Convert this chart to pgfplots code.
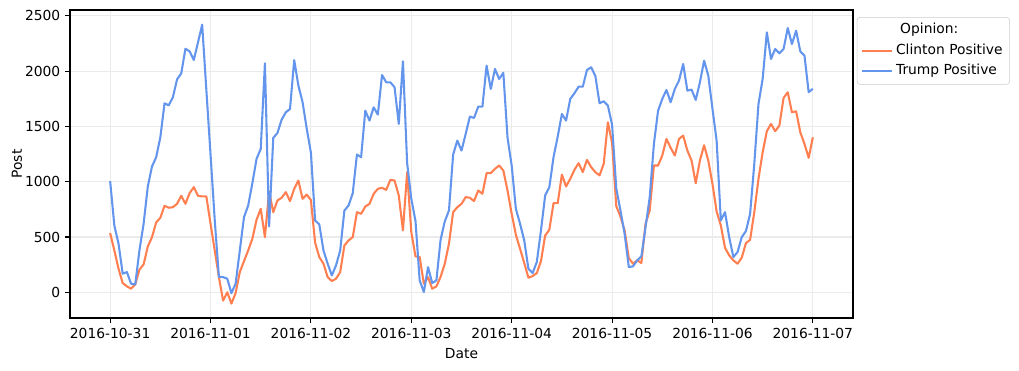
\documentclass[border=0pt]{standalone}
\usepackage{pgfplots}
\pgfplotsset{compat=1.18}
\usepackage{pgfplotstable}
\usepackage{fontspec}
\setmainfont{DejaVu Sans}
\definecolor{clinton}{HTML}{FF7F50}
\definecolor{trump}{HTML}{6495ED}
\pgfplotstableread{
h c t
0 536 1005
1 379 605
2 214 440
3 84 169
4 54 183
5 33 78
6 72 72
7 205 379
8 253 620
9 415 957
10 499 1138
11 632 1222
12 674 1402
13 783 1709
14 765 1691
15 770 1764
16 801 1926
17 873 1980
18 801 2203
19 897 2179
20 951 2101
21 873 2260
22 867 2420
23 867 1830
24 620 1246
25 379 656
26 138 140
27 -75 138
28 0 123
29 -102 -8
30 -5 80
31 183 379
32 282 680
33 379 785
34 484 987
35 656 1207
36 755 1297
37 499 2071
38 912 596
39 725 1397
40 831 1441
41 855 1562
42 906 1628
43 825 1658
44 936 2100
45 1011 1870
46 846 1720
47 884 1480
48 834 1262
49 450 650
50 319 614
51 259 379
52 138 259
53 102 153
54 123 244
55 183 379
56 424 740
57 469 785
58 499 896
59 725 1246
60 710 1222
61 776 1643
62 800 1553
63 891 1673
64 936 1607
65 945 1965
66 927 1899
67 1017 1899
68 1011 1854
69 876 1523
70 560 2089
71 1087 1170
72 545 846
73 325 645
74 319 108
75 78 3
76 138 228
77 33 84
78 54 108
79 140 475
80 259 641
81 439 740
82 725 1246
83 770 1372
84 800 1282
85 861 1432
86 855 1589
87 825 1577
88 921 1679
89 891 1679
90 1078 2050
91 1078 1839
92 1117 2020
93 1147 1929
94 1102 1985
95 921 1400
96 710 1145
97 520 755
98 394 620
99 265 469
100 132 213
101 147 174
102 174 274
103 282 560
104 514 876
105 566 951
106 806 1222
107 806 1408
108 1065 1613
109 957 1553
110 1026 1749
111 1108 1800
112 1168 1860
113 1087 1860
114 1198 2011
115 1132 2035
116 1087 1956
117 1057 1710
118 1162 1728
119 1538 1689
120 1350 1515
121 780 940
122 685 740
123 560 529
124 310 229
125 259 235
126 290 289
127 265 325
128 620 590
129 740 861
130 1147 1342
131 1147 1643
132 1237 1749
133 1387 1830
134 1307 1719
135 1237 1839
136 1387 1914
137 1417 2065
138 1282 1824
139 1192 1833
140 987 1740
141 1192 1899
142 1330 2095
143 1192 1960
144 980 1660
145 730 1370
146 605 650
147 403 725
148 334 499
149 289 319
150 259 364
151 313 499
152 445 554
153 475 710
154 725 1162
155 1026 1703
156 1267 1929
157 1457 2351
158 1523 2110
159 1457 2201
160 1508 2161
161 1758 2201
162 1809 2390
163 1628 2245
164 1637 2366
165 1447 2179
166 1342 2140
167 1216 1810
168 1402 1840
}\data

\begin{document}
\begin{tikzpicture}
\useasboundingbox (0,0) rectangle (10.19in,3.71in);
\begin{axis}[
  at={(0.70in,0.53in)}, anchor=south west,
  width=7.83in, height=3.08in, scale only axis,
  xmin=-9.6, xmax=177.6, ymin=-232, ymax=2553,
  xtick={0,24,...,168},
  xticklabels={2016-10-31,2016-11-01,2016-11-02,2016-11-03,2016-11-04,2016-11-05,2016-11-06,2016-11-07},
  ytick={0,500,...,2500},
  grid=major,
  major grid style={line width=0.8pt, color=black!8},
  tick align=outside, major tick length=3.5pt, tick pos=left,
  tick style={black, line width=0.8pt},
  axis line style={line width=0.8pt},
  tick label style={font=\fontsize{10}{12}\selectfont},
  /pgf/number format/assume math mode=true,
  /pgf/number format/1000 sep={},
  xlabel={Date}, ylabel={Post},
  label style={font=\fontsize{10}{12}\selectfont},
  xlabel style={at={(axis description cs:0.5,-0.117)}, anchor=center},
  ylabel style={at={(axis description cs:-0.0677,0.5)}, anchor=center},
  legend image code/.code={\draw[#1] (0pt,0pt) -- (21.6pt,0pt);},
  legend cell align=left,
  legend style={at={(1.005,0.977)}, anchor=north west, draw=black!20,
    rounded corners=2pt, fill=white, font=\fontsize{10}{12}\selectfont,
    inner xsep=3pt, inner ysep=2pt, row sep=0pt,
    nodes={inner ysep=2.4pt, text height=7.5pt, text depth=2.5pt}},
]
\addlegendimage{empty legend}
\addlegendentry{\hspace{3pt}Opinion:}
\addplot[clinton, line width=1.5pt, line join=round] table[x=h,y=c]{\data};
\addlegendentry{Clinton Positive}
\addplot[trump, line width=1.5pt, line join=round] table[x=h,y=t]{\data};
\addlegendentry{Trump Positive}
\end{axis}
\end{tikzpicture}
\end{document}
